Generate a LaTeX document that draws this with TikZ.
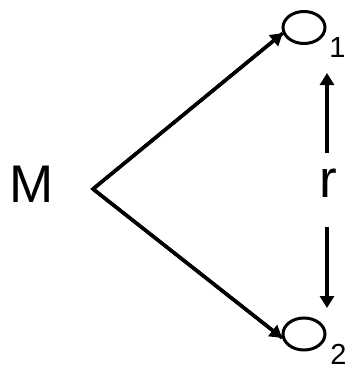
\documentclass[tikz,border=0pt]{standalone}
\usepackage{fontspec}
\setmainfont{Liberation Sans}
\usetikzlibrary{shapes.geometric,arrows.meta}
\begin{document}
\begin{tikzpicture}[x=1pt,y=-1pt,
  bigtext/.style={inner sep=0pt,font=\fontsize{53}{60}\selectfont},
  subtext/.style={inner sep=0pt,font=\fontsize{29}{34}\selectfont},
  oval/.style={draw,ellipse,line width=3pt,inner sep=0pt,minimum width=42pt,minimum height=32pt},
  arr/.style={line width=3.5pt,-{Triangle[length=12pt,width=14pt]}}]
\useasboundingbox (0,0) rectangle (349,370);
\node[bigtext] (M) at (31.5,184) {M};
\coordinate (apex) at (93,189);
\node[oval] (O1) at (304,27.5) {};
\node[oval] (O2) at (304,334) {};
\node[subtext] (s1) at (337.5,47.5) {1};
\node[subtext] (s2) at (338.5,354.5) {2};
\node[bigtext] (r) at (328,183.5) {r};
\coordinate (ua) at (327,153);
\coordinate (ub) at (327,73);
\coordinate (da) at (327,227);
\coordinate (db) at (327,308);
\draw[arr] (apex) -- (O1.195);
\draw[arr] (apex) -- (O2.190);
\draw[line width=3.5pt,line join=miter] (O1.195) -- (apex) -- (O2.190);
\draw[arr] (ua) -- (ub);
\draw[arr] (da) -- (db);
\end{tikzpicture}
\end{document}
